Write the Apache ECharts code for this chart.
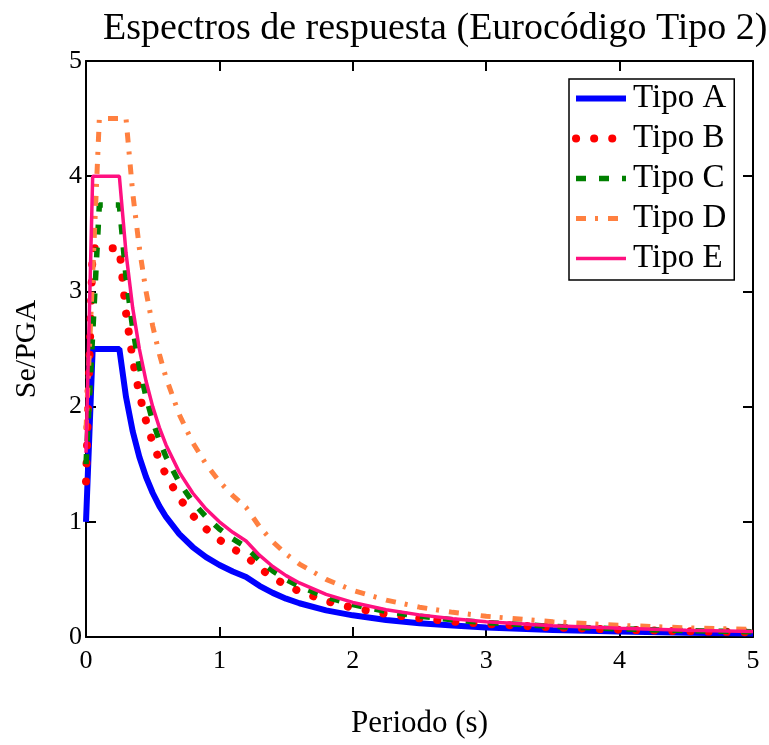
<!DOCTYPE html>
<html>
<head>
<meta charset="utf-8">
<script src="https://cdn.jsdelivr.net/npm/echarts@6/dist/echarts.min.js"></script>
<style>
html,body{margin:0;padding:0;background:#fff;}
#chart{width:769px;height:745px;}
</style>
</head>
<body>
<div id="chart"></div>
<script>
// Periods (s)
const periods = [0, 0.05, 0.1, 0.25, 0.3, 0.35, 0.4, 0.45, 0.5, 0.55, 0.6, 0.7, 0.8, 0.9, 1.0, 1.1, 1.2, 1.3, 1.4, 1.5, 1.6, 1.8, 2.0, 2.25, 2.5, 2.75, 3.0, 3.5, 4.0, 4.5, 5.0];
// Se/PGA values
const tipoA = [1.0, 2.5, 2.5, 2.5, 2.083, 1.786, 1.563, 1.389, 1.25, 1.136, 1.042, 0.893, 0.781, 0.694, 0.625, 0.568, 0.521, 0.444, 0.383, 0.333, 0.293, 0.231, 0.188, 0.148, 0.12, 0.099, 0.083, 0.061, 0.047, 0.037, 0.03];
const tipoB = [1.35, 3.375, 3.375, 3.375, 2.813, 2.411, 2.109, 1.875, 1.688, 1.534, 1.406, 1.205, 1.055, 0.938, 0.844, 0.767, 0.703, 0.599, 0.517, 0.45, 0.396, 0.313, 0.253, 0.2, 0.162, 0.134, 0.113, 0.083, 0.063, 0.05, 0.041];
const tipoC = [1.5, 2.625, 3.75, 3.75, 3.125, 2.679, 2.344, 2.083, 1.875, 1.705, 1.563, 1.339, 1.172, 1.042, 0.938, 0.852, 0.781, 0.666, 0.574, 0.5, 0.439, 0.347, 0.281, 0.222, 0.18, 0.149, 0.125, 0.092, 0.07, 0.056, 0.045];
const tipoD = [1.8, 3.15, 4.5, 4.5, 4.5, 3.857, 3.375, 3.0, 2.7, 2.455, 2.25, 1.929, 1.688, 1.5, 1.35, 1.227, 1.125, 0.959, 0.827, 0.72, 0.633, 0.5, 0.405, 0.32, 0.259, 0.214, 0.18, 0.132, 0.101, 0.08, 0.065];
const tipoE = [1.6, 4.0, 4.0, 4.0, 3.333, 2.857, 2.5, 2.222, 2.0, 1.818, 1.667, 1.429, 1.25, 1.111, 1.0, 0.909, 0.833, 0.71, 0.612, 0.533, 0.469, 0.37, 0.3, 0.237, 0.192, 0.159, 0.133, 0.098, 0.075, 0.059, 0.048];
const seriesNames = ['Tipo A', 'Tipo B', 'Tipo C', 'Tipo D', 'Tipo E'];

const FONT = '"Liberation Serif", "Times New Roman", serif';
const chart = echarts.init(document.getElementById('chart'), null, {renderer: 'canvas'});

function pairs(vals) { return periods.map((p, i) => [p, vals[i]]); }

const styles = [
  {color: '#0000FF', width: 6, type: 'solid', cap: 'butt'},
  {color: '#FF0000', width: 8, type: [0.1, 18], cap: 'round'},
  {color: '#008000', width: 5.5, type: [10, 13], cap: 'butt'},
  {color: '#FF8040', width: 5, type: [10, 9, 3, 10], cap: 'butt'},
  {color: '#FF1080', width: 3.5, type: 'solid', cap: 'butt'}
];
const allVals = [tipoA, tipoB, tipoC, tipoD, tipoE];

const baseAxis = {
  min: 0, max: 5, interval: 1,
  axisLine: {show: true, onZero: false, lineStyle: {color: '#000', width: 2}},
  axisTick: {show: true, inside: true, length: 10, lineStyle: {color: '#000', width: 2}},
  splitLine: {show: false}
};

const option = {
  animation: false,
  backgroundColor: '#fff',
  title: {
    text: 'Espectros de respuesta (Eurocódigo Tipo 2)',
    left: 98, top: 5,
    textStyle: {fontFamily: FONT, fontSize: 38, fontWeight: 'normal', color: '#000'}
  },
  legend: {
    orient: 'vertical',
    left: 569, top: 79,
    data: seriesNames,
    borderColor: '#000', borderWidth: 1.5,
    padding: [3, 8, 5, 3],
    itemWidth: 50, itemHeight: 32, itemGap: 7,
    backgroundColor: '#fff',
    itemStyle: {opacity: 0, borderWidth: 0},
    lineStyle: {width: 'inherit', type: 'inherit', cap: 'inherit'},
    textStyle: {fontFamily: FONT, fontSize: 33, color: '#000', padding: [0, 0, 0, 2]}
  },
  grid: {left: 86, right: 16, top: 61, bottom: 108, containLabel: false},
  xAxis: [
    Object.assign({}, baseAxis, {
      type: 'value', position: 'bottom',
      name: 'Periodo (s)', nameLocation: 'middle', nameGap: 71,
      nameTextStyle: {fontFamily: FONT, fontSize: 31, color: '#000'},
      axisLabel: {fontFamily: FONT, fontSize: 26, color: '#000', margin: 11}
    }),
    Object.assign({}, baseAxis, {type: 'value', position: 'top', axisLabel: {show: false}})
  ],
  yAxis: [
    Object.assign({}, baseAxis, {
      type: 'value', position: 'left',
      name: 'Se/PGA', nameLocation: 'middle', nameGap: 44, nameRotate: 90,
      nameTextStyle: {fontFamily: FONT, fontSize: 30, color: '#000'},
      axisLabel: {fontFamily: FONT, fontSize: 26, color: '#000', margin: 4}
    }),
    Object.assign({}, baseAxis, {type: 'value', position: 'right', axisLabel: {show: false}})
  ],
  series: seriesNames.map((n, i) => ({
    name: n, type: 'line', xAxisIndex: 0, yAxisIndex: 0,
    data: pairs(allVals[i]),
    showSymbol: false, symbol: 'none',
    itemStyle: {color: styles[i].color},
    lineStyle: {color: styles[i].color, width: styles[i].width, type: styles[i].type, cap: styles[i].cap},
    z: 2 + i
  }))
};
chart.setOption(option);
</script>
</body>
</html>
